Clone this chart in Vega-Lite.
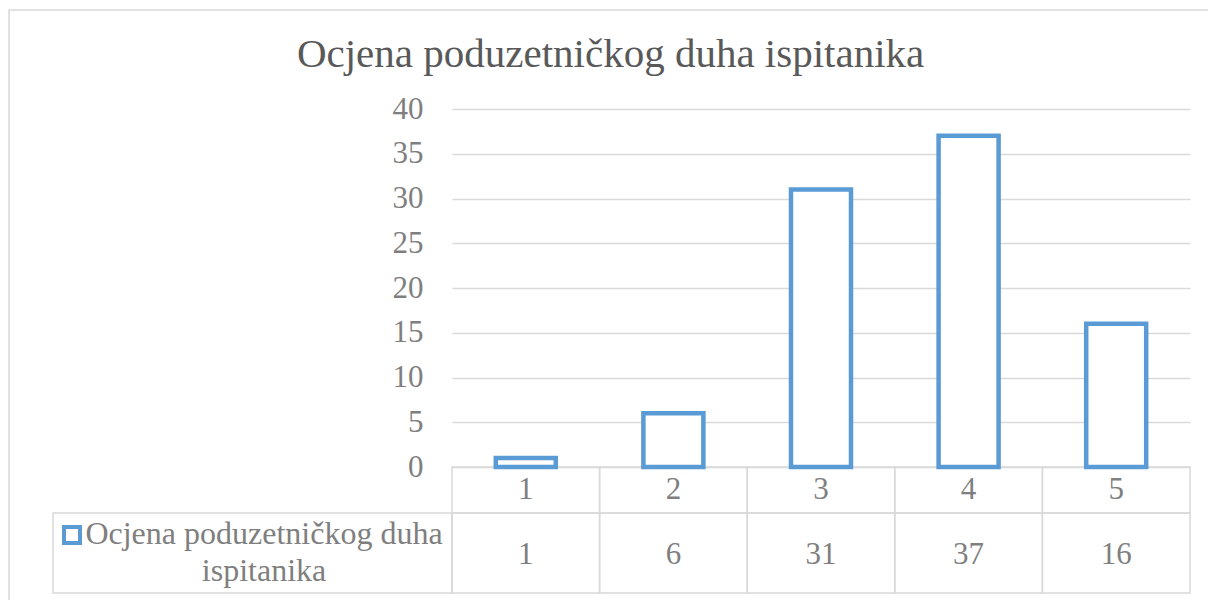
{
  "$schema": "https://vega.github.io/schema/vega-lite/v6.json",
  "width": 738,
  "height": 358,
  "autosize": {"type": "none"},
  "padding": {"left": 452, "top": 109, "right": 18, "bottom": 133},
  "background": "white",
  "config": {
    "view": {"stroke": null},
    "font": "Liberation Serif",
    "title": {"font": "Liberation Serif", "fontSize": 41, "fontWeight": "normal", "color": "#595959", "anchor": "middle", "frame": "bounds", "offset": -67, "baseline": "alphabetic"}
  },
  "title": "Ocjena poduzetničkog duha ispitanika",
  "datasets": {
    "ocjene": [
      {"ocjena": 1, "broj": 1},
      {"ocjena": 2, "broj": 6},
      {"ocjena": 3, "broj": 31},
      {"ocjena": 4, "broj": 37},
      {"ocjena": 5, "broj": 16}
    ]
  },
  "data": {"name": "ocjene"},
  "encoding": {
    "x": {"field": "ocjena", "type": "quantitative", "scale": {"domain": [0.5, 5.5], "nice": false, "zero": false, "padding": 0}, "axis": null},
    "y": {"type": "quantitative", "scale": {"domain": [0, 40], "nice": false, "padding": 0}, "axis": {"values": [0, 5, 10, 15, 20, 25, 30, 35, 40], "title": null, "grid": true, "domain": false, "ticks": false, "labelPadding": 29, "labelFont": "Liberation Serif", "labelFontSize": 31, "labelColor": "#7f7f7f", "gridColor": "#d9d9d9", "gridWidth": 1.3}}
  },
  "layer": [
    {
      "transform": [{"filter": "datum.ocjena == 1"}],
      "mark": {"type": "rect", "fill": "transparent", "stroke": "#d9d9d9", "strokeWidth": 1.6},
      "encoding": {"x": {"datum": -2.501}, "x2": {"datum": 5.65}, "y": {"datum": 51.06}, "y2": {"datum": -16}}
    },
    {
      "mark": {"type": "bar", "width": 147.6, "fill": "transparent", "stroke": "#d9d9d9", "strokeWidth": 1.5},
      "encoding": {"y": {"datum": 0}, "y2": {"datum": -5.14}}
    },
    {
      "mark": {"type": "bar", "width": 147.6, "fill": "transparent", "stroke": "#d9d9d9", "strokeWidth": 1.5},
      "encoding": {"y": {"datum": -5.14}, "y2": {"datum": -14.08}}
    },
    {
      "transform": [{"filter": "datum.ocjena == 1"}],
      "mark": {"type": "rect", "fill": "transparent", "stroke": "#d9d9d9", "strokeWidth": 1.5},
      "encoding": {"x": {"datum": -2.203}, "x2": {"datum": 0.5}, "y": {"datum": -5.14}, "y2": {"datum": -14.08}}
    },
    {
      "mark": {"type": "bar", "width": 60, "fill": "white", "stroke": "#5b9bd5", "strokeWidth": 4.5},
      "encoding": {"y": {"field": "broj"}}
    },
    {
      "mark": {"type": "text", "fontSize": 31, "color": "#7f7f7f", "baseline": "middle", "align": "center"},
      "encoding": {"y": {"datum": -2.57}, "text": {"field": "ocjena"}}
    },
    {
      "mark": {"type": "text", "fontSize": 31, "color": "#7f7f7f", "baseline": "middle", "align": "center"},
      "encoding": {"y": {"datum": -9.8}, "text": {"field": "broj"}}
    },
    {
      "transform": [{"filter": "datum.ocjena == 1"}],
      "mark": {"type": "point", "shape": "square", "size": 256, "filled": false, "fill": "white", "fillOpacity": 1, "stroke": "#5b9bd5", "strokeWidth": 4, "opacity": 1},
      "encoding": {"x": {"datum": -2.0745}, "y": {"datum": -7.598}}
    },
    {
      "transform": [{"filter": "datum.ocjena == 1"}],
      "mark": {"type": "text", "fontSize": 32, "color": "#7f7f7f", "baseline": "middle", "align": "center", "lineHeight": 37},
      "encoding": {"x": {"datum": -0.7737}, "y": {"datum": -7.486}, "text": {"value": ["Ocjena poduzetničkog duha", "ispitanika"]}}
    }
  ]
}
